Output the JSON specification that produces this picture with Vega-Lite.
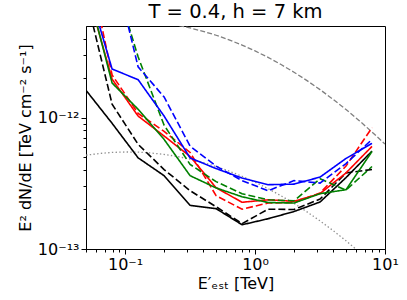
{
  "$schema": "https://vega.github.io/schema/vega-lite/v6.json",
  "width": 299,
  "height": 223,
  "autosize": "none",
  "padding": {"left": 86, "top": 26, "right": 22, "bottom": 51},
  "background": "white",
  "config": {
    "view": {"stroke": "black", "strokeWidth": 1},
    "font": "DejaVu Sans",
    "axis": {"grid": false, "domainColor": "black", "tickColor": "black", "labelColor": "black", "titleColor": "black", "labelFont": "DejaVu Sans", "titleFont": "DejaVu Sans", "titleFontWeight": "normal", "labelOverlap": false, "labelFlush": false}
  },
  "title": {"text": "T = 0.4, h = 7 km", "fontSize": 19.5, "font": "DejaVu Sans", "fontWeight": "normal", "color": "black", "anchor": "middle", "frame": "group", "offset": 4},
  "datasets": {
    "curves": [
      {"E": 0.0501, "F": 5.184e-12, "crab": "10%"}, {"E": 0.0631, "F": 5.339e-12, "crab": "10%"}, {"E": 0.0794, "F": 5.443e-12, "crab": "10%"}, {"E": 0.1, "F": 5.485e-12, "crab": "10%"}, {"E": 0.1259, "F": 5.468e-12, "crab": "10%"}, {"E": 0.1585, "F": 5.391e-12, "crab": "10%"}, {"E": 0.1995, "F": 5.255e-12, "crab": "10%"}, {"E": 0.2512, "F": 5.068e-12, "crab": "10%"}, {"E": 0.3162, "F": 4.832e-12, "crab": "10%"}, {"E": 0.3981, "F": 4.558e-12, "crab": "10%"}, {"E": 0.5012, "F": 4.251e-12, "crab": "10%"}, {"E": 0.631, "F": 3.921e-12, "crab": "10%"}, {"E": 0.7943, "F": 3.579e-12, "crab": "10%"}, {"E": 1, "F": 3.23e-12, "crab": "10%"}, {"E": 1.259, "F": 2.883e-12, "crab": "10%"}, {"E": 1.585, "F": 2.544e-12, "crab": "10%"}, {"E": 1.995, "F": 2.222e-12, "crab": "10%"}, {"E": 2.512, "F": 1.918e-12, "crab": "10%"}, {"E": 3.162, "F": 1.638e-12, "crab": "10%"}, {"E": 3.981, "F": 1.383e-12, "crab": "10%"}, {"E": 5.012, "F": 1.155e-12, "crab": "10%"}, {"E": 6.31, "F": 0.954e-12, "crab": "10%"}, {"E": 7.943, "F": 0.779e-12, "crab": "10%"}, {"E": 10, "F": 0.63e-12, "crab": "10%"},
      {"E": 0.0501, "F": 5.184e-13, "crab": "1%"}, {"E": 0.0631, "F": 5.339e-13, "crab": "1%"}, {"E": 0.0794, "F": 5.443e-13, "crab": "1%"}, {"E": 0.1, "F": 5.485e-13, "crab": "1%"}, {"E": 0.1259, "F": 5.468e-13, "crab": "1%"}, {"E": 0.1585, "F": 5.391e-13, "crab": "1%"}, {"E": 0.1995, "F": 5.255e-13, "crab": "1%"}, {"E": 0.2512, "F": 5.068e-13, "crab": "1%"}, {"E": 0.3162, "F": 4.832e-13, "crab": "1%"}, {"E": 0.3981, "F": 4.558e-13, "crab": "1%"}, {"E": 0.5012, "F": 4.251e-13, "crab": "1%"}, {"E": 0.631, "F": 3.921e-13, "crab": "1%"}, {"E": 0.7943, "F": 3.579e-13, "crab": "1%"}, {"E": 1, "F": 3.23e-13, "crab": "1%"}, {"E": 1.259, "F": 2.883e-13, "crab": "1%"}, {"E": 1.585, "F": 2.544e-13, "crab": "1%"}, {"E": 1.995, "F": 2.222e-13, "crab": "1%"}, {"E": 2.512, "F": 1.918e-13, "crab": "1%"}, {"E": 3.162, "F": 1.638e-13, "crab": "1%"}, {"E": 3.981, "F": 1.383e-13, "crab": "1%"}, {"E": 5.012, "F": 1.155e-13, "crab": "1%"}, {"E": 6.31, "F": 0.954e-13, "crab": "1%"}, {"E": 7.943, "F": 0.779e-13, "crab": "1%"}, {"E": 10, "F": 0.63e-13, "crab": "1%"}
    ],
    "sens": [
      {"set": "A", "type": "solid", "E": 0.0501, "F": 1.615e-12}, {"set": "A", "type": "solid", "E": 0.0794, "F": 9.07e-13}, {"set": "A", "type": "solid", "E": 0.1259, "F": 4.95e-13}, {"set": "A", "type": "solid", "E": 0.1995, "F": 3.62e-13}, {"set": "A", "type": "solid", "E": 0.3162, "F": 2.15e-13}, {"set": "A", "type": "solid", "E": 0.5012, "F": 2.03e-13}, {"set": "A", "type": "solid", "E": 0.7943, "F": 1.53e-13}, {"set": "A", "type": "solid", "E": 1.259, "F": 1.70e-13}, {"set": "A", "type": "solid", "E": 1.995, "F": 1.93e-13}, {"set": "A", "type": "solid", "E": 3.162, "F": 2.28e-13}, {"set": "A", "type": "solid", "E": 5.012, "F": 3.50e-13}, {"set": "A", "type": "solid", "E": 7.943, "F": 5.57e-13},
      {"set": "A", "type": "dashed", "E": 0.0501, "F": 8.4e-12}, {"set": "A", "type": "dashed", "E": 0.0794, "F": 1.27e-12}, {"set": "A", "type": "dashed", "E": 0.1259, "F": 6.27e-13}, {"set": "A", "type": "dashed", "E": 0.1995, "F": 4.03e-13}, {"set": "A", "type": "dashed", "E": 0.3162, "F": 2.78e-13}, {"set": "A", "type": "dashed", "E": 0.5012, "F": 2.10e-13}, {"set": "A", "type": "dashed", "E": 0.7943, "F": 1.56e-13}, {"set": "A", "type": "dashed", "E": 1.259, "F": 2.01e-13}, {"set": "A", "type": "dashed", "E": 1.995, "F": 2.0e-13}, {"set": "A", "type": "dashed", "E": 3.162, "F": 2.40e-13}, {"set": "A", "type": "dashed", "E": 5.012, "F": 3.80e-13}, {"set": "A", "type": "dashed", "E": 7.943, "F": 4.03e-13},
      {"set": "B", "type": "solid", "E": 0.0501, "F": 9.9e-12}, {"set": "B", "type": "solid", "E": 0.0794, "F": 1.97e-12}, {"set": "B", "type": "solid", "E": 0.1259, "F": 1.03e-12}, {"set": "B", "type": "solid", "E": 0.1995, "F": 7.26e-13}, {"set": "B", "type": "solid", "E": 0.3162, "F": 5.07e-13}, {"set": "B", "type": "solid", "E": 0.5012, "F": 2.93e-13}, {"set": "B", "type": "solid", "E": 0.7943, "F": 2.27e-13}, {"set": "B", "type": "solid", "E": 1.259, "F": 2.37e-13}, {"set": "B", "type": "solid", "E": 1.995, "F": 2.31e-13}, {"set": "B", "type": "solid", "E": 3.162, "F": 2.64e-13}, {"set": "B", "type": "solid", "E": 5.012, "F": 3.80e-13}, {"set": "B", "type": "solid", "E": 7.943, "F": 6.05e-13},
      {"set": "B", "type": "dashed", "E": 0.0501, "F": 1.8e-11}, {"set": "B", "type": "dashed", "E": 0.0794, "F": 2.12e-12}, {"set": "B", "type": "dashed", "E": 0.1259, "F": 1.08e-12}, {"set": "B", "type": "dashed", "E": 0.1995, "F": 7.88e-13}, {"set": "B", "type": "dashed", "E": 0.3162, "F": 5.44e-13}, {"set": "B", "type": "dashed", "E": 0.5012, "F": 2.55e-13}, {"set": "B", "type": "dashed", "E": 0.7943, "F": 2.01e-13}, {"set": "B", "type": "dashed", "E": 1.259, "F": 2.24e-13}, {"set": "B", "type": "dashed", "E": 1.995, "F": 2.26e-13}, {"set": "B", "type": "dashed", "E": 3.162, "F": 2.67e-13}, {"set": "B", "type": "dashed", "E": 5.012, "F": 4.28e-13}, {"set": "B", "type": "dashed", "E": 7.943, "F": 8.41e-13},
      {"set": "C", "type": "solid", "E": 0.0501, "F": 1.07e-11}, {"set": "C", "type": "solid", "E": 0.0794, "F": 1.84e-12}, {"set": "C", "type": "solid", "E": 0.1259, "F": 1.16e-12}, {"set": "C", "type": "solid", "E": 0.1995, "F": 6.84e-13}, {"set": "C", "type": "solid", "E": 0.3162, "F": 3.62e-13}, {"set": "C", "type": "solid", "E": 0.5012, "F": 2.92e-13}, {"set": "C", "type": "solid", "E": 0.7943, "F": 2.50e-13}, {"set": "C", "type": "solid", "E": 1.259, "F": 2.26e-13}, {"set": "C", "type": "solid", "E": 1.995, "F": 2.24e-13}, {"set": "C", "type": "solid", "E": 3.162, "F": 2.64e-13}, {"set": "C", "type": "solid", "E": 5.012, "F": 2.83e-13}, {"set": "C", "type": "solid", "E": 7.943, "F": 5.53e-13},
      {"set": "C", "type": "dashed", "E": 0.0501, "F": 3.0e-11}, {"set": "C", "type": "dashed", "E": 0.0794, "F": 1.3e-11}, {"set": "C", "type": "dashed", "E": 0.1259, "F": 2.91e-12}, {"set": "C", "type": "dashed", "E": 0.1995, "F": 8.77e-13}, {"set": "C", "type": "dashed", "E": 0.3162, "F": 4.41e-13}, {"set": "C", "type": "dashed", "E": 0.5012, "F": 3.26e-13}, {"set": "C", "type": "dashed", "E": 0.7943, "F": 2.64e-13}, {"set": "C", "type": "dashed", "E": 1.259, "F": 2.37e-13}, {"set": "C", "type": "dashed", "E": 1.995, "F": 2.33e-13}, {"set": "C", "type": "dashed", "E": 3.162, "F": 3.43e-13}, {"set": "C", "type": "dashed", "E": 5.012, "F": 2.81e-13}, {"set": "C", "type": "dashed", "E": 7.943, "F": 4.25e-13},
      {"set": "D", "type": "solid", "E": 0.0501, "F": 1.11e-11}, {"set": "D", "type": "solid", "E": 0.0794, "F": 2.35e-12}, {"set": "D", "type": "solid", "E": 0.1259, "F": 1.95e-12}, {"set": "D", "type": "solid", "E": 0.1995, "F": 1.03e-12}, {"set": "D", "type": "solid", "E": 0.3162, "F": 4.94e-13}, {"set": "D", "type": "solid", "E": 0.5012, "F": 4.10e-13}, {"set": "D", "type": "solid", "E": 0.7943, "F": 3.47e-13}, {"set": "D", "type": "solid", "E": 1.259, "F": 3.09e-13}, {"set": "D", "type": "solid", "E": 1.995, "F": 3.12e-13}, {"set": "D", "type": "solid", "E": 3.162, "F": 3.53e-13}, {"set": "D", "type": "solid", "E": 5.012, "F": 4.90e-13}, {"set": "D", "type": "solid", "E": 7.943, "F": 6.38e-13},
      {"set": "D", "type": "dashed", "E": 0.0501, "F": 3.5e-11}, {"set": "D", "type": "dashed", "E": 0.0794, "F": 1.6e-11}, {"set": "D", "type": "dashed", "E": 0.1259, "F": 2.44e-12}, {"set": "D", "type": "dashed", "E": 0.1995, "F": 1.44e-12}, {"set": "D", "type": "dashed", "E": 0.3162, "F": 6.08e-13}, {"set": "D", "type": "dashed", "E": 0.5012, "F": 4.28e-13}, {"set": "D", "type": "dashed", "E": 0.7943, "F": 3.32e-13}, {"set": "D", "type": "dashed", "E": 1.259, "F": 2.78e-13}, {"set": "D", "type": "dashed", "E": 1.995, "F": 3.32e-13}, {"set": "D", "type": "dashed", "E": 3.162, "F": 3.18e-13}, {"set": "D", "type": "dashed", "E": 5.012, "F": 4.48e-13}, {"set": "D", "type": "dashed", "E": 7.943, "F": 6.84e-13}
    ]
  },
  "encoding": {
    "x": {"field": "E", "type": "quantitative", "scale": {"type": "log", "domain": [0.05, 10], "nice": false},
      "axis": {"title": "E′ₑₛₜ [TeV]", "titleFontSize": 16, "titlePadding": 3, "labelFontSize": 16, "labelPadding": 2,
        "values": [0.05, 0.06, 0.07, 0.08, 0.09, 0.1, 0.2, 0.3, 0.4, 0.5, 0.6, 0.7, 0.8, 0.9, 1, 2, 3, 4, 5, 6, 7, 8, 9, 10],
        "labelExpr": "datum.value == 0.1 ? '10⁻¹' : datum.value == 1 ? '10⁰' : datum.value == 10 ? '10¹' : ''",
        "tickSize": {"condition": {"test": "datum.value == 0.1 || datum.value == 1 || datum.value == 10", "value": 5}, "value": 3}}},
    "y": {"field": "F", "type": "quantitative", "scale": {"type": "log", "domain": [1e-13, 5e-12], "nice": false},
      "axis": {"title": "E² dN/dE [TeV cm⁻² s⁻¹]", "titleFontSize": 16, "titlePadding": 4, "labelFontSize": 16, "labelPadding": 2,
        "values": [1e-13, 2e-13, 3e-13, 4e-13, 5e-13, 6e-13, 7e-13, 8e-13, 9e-13, 1e-12, 2e-12, 3e-12, 4e-12],
        "labelExpr": "datum.value == 1e-13 ? '10⁻¹³' : datum.value == 1e-12 ? '10⁻¹²' : ''",
        "tickSize": {"condition": {"test": "datum.value == 1e-13 || datum.value == 1e-12", "value": 5}, "value": 3}}}
  },
  "layer": [
    {"data": {"name": "curves"}, "transform": [{"filter": "datum.crab == '10%'"}],
     "mark": {"type": "line", "clip": true, "color": "#808080", "strokeWidth": 1.3, "strokeDash": [5, 2.2]}},
    {"data": {"name": "curves"}, "transform": [{"filter": "datum.crab == '1%'"}],
     "mark": {"type": "line", "clip": true, "color": "#909090", "strokeWidth": 1.3, "strokeDash": [1.4, 2.3]}},
    {"data": {"name": "sens"},
     "mark": {"type": "line", "clip": true, "strokeWidth": 1.6},
     "encoding": {
       "color": {"field": "set", "type": "nominal", "scale": {"domain": ["A", "B", "C", "D"], "range": ["#000000", "#ff0000", "#008000", "#0000ff"]}, "legend": null},
       "strokeDash": {"field": "type", "type": "nominal", "scale": {"domain": ["solid", "dashed"], "range": [[1, 0], [7, 3]]}, "legend": null},
       "detail": {"field": "type"}
     }}
  ]
}
